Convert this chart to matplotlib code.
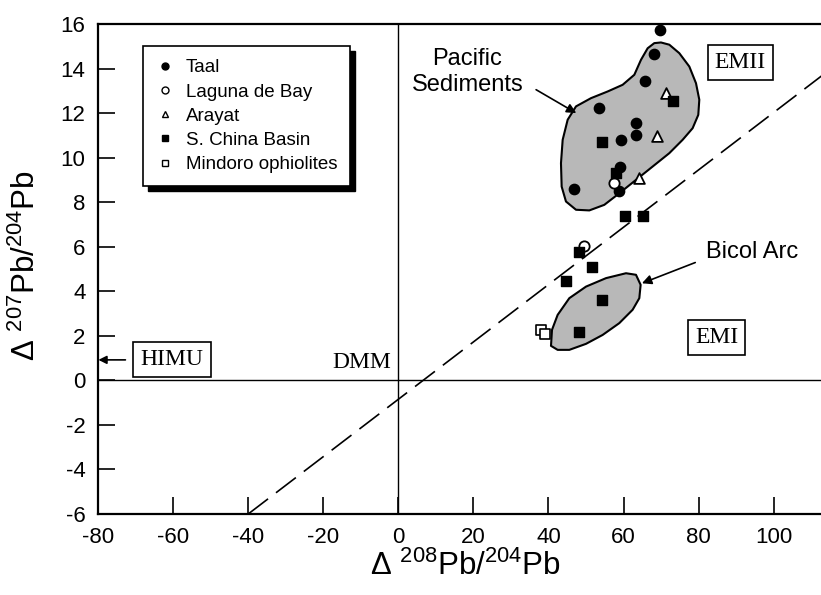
import matplotlib
matplotlib.use("Agg")
import matplotlib.pyplot as plt
from matplotlib.patches import Polygon, Rectangle
from matplotlib.lines import Line2D

plt.rcParams['font.family'] = ['Liberation Sans', 'DejaVu Sans']
plt.rcParams['mathtext.fontset'] = 'custom'
plt.rcParams['mathtext.rm'] = 'Liberation Sans'
plt.rcParams['mathtext.it'] = 'Liberation Sans:italic'
plt.rcParams['mathtext.bf'] = 'Liberation Sans:bold'
plt.rcParams['axes.unicode_minus'] = False

# values (D208Pb/204Pb, D207Pb/204Pb)
taal_x = [69.8, 68.2, 65.6, 53.5, 63.3, 63.3, 59.3, 59.1, 58.7, 46.9]
taal_y = [15.73, 14.65, 13.46, 12.22, 11.55, 11.02, 10.77, 9.57, 8.52, 8.59]

laguna_x = [57.4, 49.4]
laguna_y = [8.85, 6.05]

arayat_x = [71.4, 68.8, 64.0]
arayat_y = [12.92, 10.95, 9.08]

scs_x = [73.1, 54.2, 58.0, 60.5, 65.1, 48.2, 51.6, 44.7, 54.3, 48.2]
scs_y = [12.56, 10.70, 9.30, 7.39, 7.39, 5.77, 5.08, 4.47, 3.61, 2.19]

mindoro_x = [38.0, 39.2]
mindoro_y = [2.27, 2.07]

# outlines of the shaded fields
pacific_x = [69.97, 72.19, 74.85, 77.52, 79.30, 80.18, 79.91, 78.40, 75.74, 72.19,
             67.75, 63.31, 58.87, 54.87, 50.88, 47.33, 44.66, 43.51, 43.33, 43.78,
             45.11, 47.33, 51.33, 55.77, 59.76, 62.87, 64.64, 66.42, 68.19]
pacific_y = [15.17, 15.07, 14.69, 14.09, 13.34, 12.60, 11.92, 11.32, 10.80, 10.20,
             9.60, 9.00, 8.40, 7.88, 7.63, 7.66, 8.03, 8.70, 9.75, 10.80,
             11.70, 12.30, 12.67, 12.97, 13.27, 13.72, 14.39, 14.91, 15.14]

bicol_x = [40.67, 40.94, 42.44, 45.55, 50.0, 55.33, 60.65, 63.31, 64.55, 64.2,
           62.42, 58.87, 54.43, 50.0, 45.55, 42.44]
bicol_y = [1.55, 2.27, 2.94, 3.69, 4.21, 4.59, 4.81, 4.74, 4.29, 3.69,
           3.17, 2.57, 2.04, 1.64, 1.37, 1.37]

# reference line
ref_x = [-40, 113]
ref_y = [-6, 13.7]

xticks = [-80, -60, -40, -20, 0, 20, 40, 60, 80, 100]
yticks = [-6, -4, -2, 0, 2, 4, 6, 8, 10, 12, 14, 16]

fig = plt.figure(figsize=(8.21, 5.95), dpi=100)
ax = fig.add_axes([0.1194, 0.1361, 0.8806, 0.8236])

ax.add_patch(Polygon(list(zip(pacific_x, pacific_y)), closed=True, fc='#b8b8b8',
                     ec='k', lw=1.5, joinstyle='round', zorder=1))
ax.add_patch(Polygon(list(zip(bicol_x, bicol_y)), closed=True, fc='#b8b8b8',
                     ec='k', lw=1.5, joinstyle='round', zorder=1))

ax.axhline(0, color='k', lw=1.0, zorder=1.5)
ax.axvline(0, color='k', lw=1.0, zorder=1.5)
ax.plot(ref_x, ref_y, color='k', lw=1.2, dashes=(15, 6), zorder=1.6)

ax.scatter(taal_x, taal_y, marker='o', s=55, c='k', zorder=3)
ax.scatter(laguna_x, laguna_y, marker='o', s=55, facecolors='white', edgecolors='k', linewidths=1.3, zorder=3)
ax.scatter(arayat_x, arayat_y, marker='^', s=60, facecolors='white', edgecolors='k', linewidths=1.3, zorder=3)
ax.scatter(scs_x, scs_y, marker='s', s=60, c='k', zorder=3)
ax.scatter(mindoro_x, mindoro_y, marker='s', s=48, facecolors='white', edgecolors='k', linewidths=1.2, zorder=3)

ax.set_xlim(-80, 112.6)
ax.set_ylim(-6, 16)
ax.set_xticks(xticks)
ax.set_yticks(yticks)
ax.tick_params(direction='in', length=12, width=1.2, labelsize=16, pad=9, top=False, right=False)
ax.spines['right'].set_visible(False)
for s in ['left', 'bottom', 'top']:
    ax.spines[s].set_linewidth(1.6)

ax.set_xlabel(r'$\Delta\ ^{208}$Pb/$^{204}$Pb', fontsize=22.5)
ax.set_ylabel(r'$\Delta\ ^{207}$Pb/$^{204}$Pb', fontsize=22.5)
ax.xaxis.set_label_coords(0.508, -0.074)
ax.yaxis.set_label_coords(-0.077, 0.507)

# labels and arrows
ax.text(18.4, 13.84, 'Pacific\nSediments', ha='center', va='center', fontsize=17)
ax.annotate('', xy=(47.4, 12.0), xytext=(36.7, 13.05),
            arrowprops=dict(arrowstyle='-|>', color='k', lw=1.2, mutation_scale=14, shrinkA=0, shrinkB=0))
ax.text(94.2, 5.75, 'Bicol Arc', ha='center', va='center', fontsize=17)
ax.annotate('', xy=(64.9, 4.36), xytext=(79.1, 5.29),
            arrowprops=dict(arrowstyle='-|>', color='k', lw=1.2, mutation_scale=14, shrinkA=0, shrinkB=0))

box = dict(boxstyle='square,pad=0.3', fc='white', ec='k', lw=1.2)
ax.text(91.1, 14.28, 'EMII', family='Liberation Serif', fontsize=17, ha='center', va='center', bbox=box)
ax.text(84.8, 1.93, 'EMI', family='Liberation Serif', fontsize=17, ha='center', va='center', bbox=box)
ax.text(-60.3, 0.94, 'HIMU', family='Liberation Serif', fontsize=17, ha='center', va='center', bbox=box)
ax.annotate('', xy=(-79.9, 0.92), xytext=(-72.7, 0.92),
            arrowprops=dict(arrowstyle='-|>', color='k', lw=1.2, mutation_scale=12, shrinkA=0, shrinkB=0))
ax.text(-2, 0.8, 'DMM', family='Liberation Serif', fontsize=17, ha='right', va='center')

handles = [
    Line2D([], [], marker='o', ls='none', color='k', markersize=5),
    Line2D([], [], marker='o', ls='none', mfc='white', mec='k', markersize=5),
    Line2D([], [], marker='^', ls='none', mfc='white', mec='k', markersize=5),
    Line2D([], [], marker='s', ls='none', color='k', markersize=5),
    Line2D([], [], marker='s', ls='none', mfc='white', mec='k', markersize=5),
]
labels = ['Taal', 'Laguna de Bay', 'Arayat', 'S. China Basin', 'Mindoro ophiolites']
leg = ax.legend(handles, labels, loc='upper left', bbox_to_anchor=(0.0618, 0.955),
                frameon=True, fancybox=False, edgecolor='k', framealpha=1, fontsize=13.5,
                borderaxespad=0, handletextpad=0.6, labelspacing=0.38, borderpad=0.7,
                handlelength=1.0)
leg.get_frame().set_linewidth(1.2)
leg.set_zorder(5)

# drop shadow behind the legend
fig.canvas.draw()
bb = leg.get_window_extent()
inv = fig.transFigure.inverted()
(x0, y0), (x1, y1) = inv.transform([[bb.x0 + 5, bb.y0 - 5], [bb.x1 + 5, bb.y1 - 5]])
ax.add_artist(Rectangle((x0, y0), x1 - x0, y1 - y0, transform=fig.transFigure,
                        fc='k', ec='k', zorder=4.5, clip_on=False))

fig.savefig('out.png', dpi=100)
